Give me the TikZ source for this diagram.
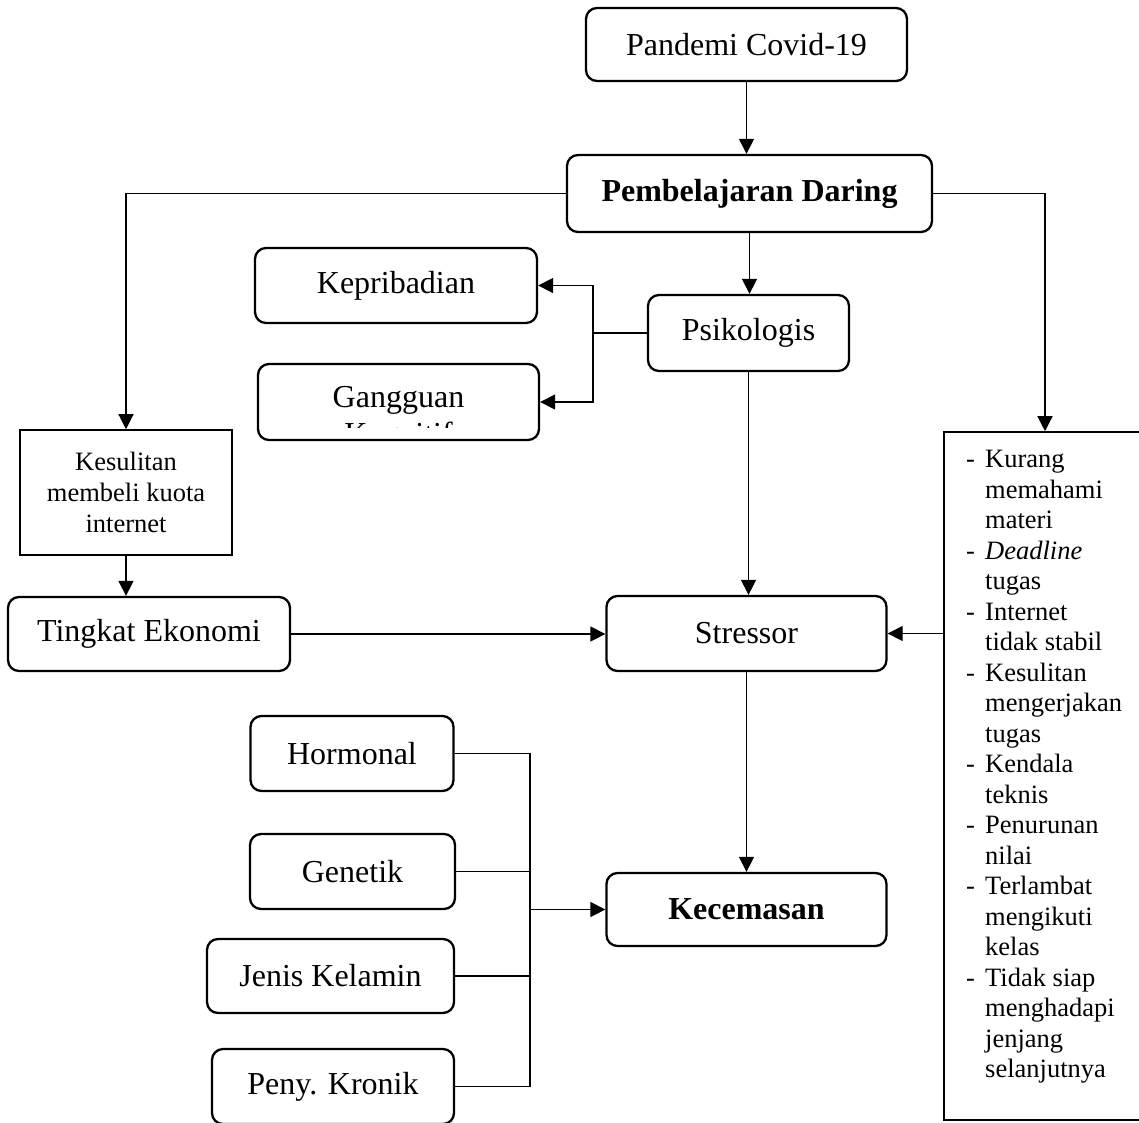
\documentclass[tikz,border=0pt]{standalone}
\usepackage{fontspec}
\setmainfont{Liberation Serif}
\usetikzlibrary{arrows.meta}
\newcommand\mainf{\fontsize{32}{37}\selectfont}
\newcommand\smallf{\fontsize{26.5}{30.5}\selectfont}
\newcommand\kesf{\fontsize{26.5}{31}\selectfont}
\newcommand\lstdash{\makebox[19pt][l]{-}}
\newcommand\lstind{\hspace*{19pt}}
\tikzset{
  rbx/.style={draw, line width=2.3pt, rounded corners=11pt, inner sep=0pt, font=\mainf},
  sbx/.style={draw, line width=1.6pt, inner sep=0pt},
  conn/.style={line width=1.3pt},
  arr/.style={conn, -{Triangle[length=15pt,width=15pt]}}
}
\begin{document}
\begin{tikzpicture}[x=1pt,y=-1pt]
\useasboundingbox (0,0) rectangle (1139,1122);
\fill[white] (0,0) rectangle (1139,1122);
\clip (0,0) rectangle (1139,1122);

% nodes
\node[rbx, minimum width=321pt, minimum height=73pt] (pan) at (746.5,44.5) {Pandemi Covid-19};
\node[rbx, minimum width=365pt, minimum height=77pt, font=\mainf\bfseries] (pem) at (749.5,193.5) {Pembelajaran Daring};
\node[rbx, minimum width=282pt, minimum height=75pt] (kep) at (396,285.5) {Kepribadian};
\node[rbx, minimum width=281pt, minimum height=76pt] (gan) at (398.5,402) {};
\begin{scope}
\clip (258,364) rectangle (540,427);
\node[anchor=north, inner sep=0pt, align=center, font=\mainf] (gantxt) at (398.5,386) {Gangguan\\Kognitif};
\end{scope}
\node[rbx, minimum width=201pt, minimum height=76pt] (psi) at (748.5,333) {Psikologis};
\node[sbx, minimum width=212pt, minimum height=125pt, align=center, font=\kesf] (kes) at (126,492.5) {Kesulitan\\membeli kuota\\internet};
\node[rbx, minimum width=282pt, minimum height=74pt] (tin) at (149,634) {Tingkat Ekonomi};
\node[rbx, minimum width=280pt, minimum height=75pt] (str) at (746.5,633.5) {Stressor};
\node[rbx, minimum width=280pt, minimum height=73pt, font=\mainf\bfseries] (kec) at (746.5,909.5) {Kecemasan};
\node[rbx, minimum width=203pt, minimum height=75pt] (hor) at (352,753.5) {Hormonal};
\node[rbx, minimum width=205pt, minimum height=75pt] (gen) at (352.5,871.5) {Genetik};
\node[rbx, minimum width=247pt, minimum height=74pt] (jen) at (330.5,976) {Jenis Kelamin};
\node[rbx, minimum width=242pt, minimum height=75pt] (pen) at (333,1086.5) {Peny. Kronik};
\node[sbx, minimum width=202pt, minimum height=688pt] (rbox) at (1045,776) {};
\node[anchor=north west, inner sep=0pt, align=left, font=\smallf] (rtxt) at (966,450) {%
\lstdash Kurang\\ \lstind memahami\\ \lstind materi\\
\lstdash \textit{Deadline}\\ \lstind tugas\\
\lstdash Internet\\ \lstind tidak stabil\\
\lstdash Kesulitan\\ \lstind mengerjakan\\ \lstind tugas\\
\lstdash Kendala\\ \lstind teknis\\
\lstdash Penurunan\\ \lstind nilai\\
\lstdash Terlambat\\ \lstind mengikuti\\ \lstind kelas\\
\lstdash Tidak siap\\ \lstind menghadapi\\ \lstind jenjang\\ \lstind selanjutnya};

% connectors
\draw[arr] (pan.south) -- (pan.south |- pem.north);
\draw[arr] (pem.west) -| (kes.north);
\draw[arr] (pem.east) -| (rbox.north);
\draw[arr] (pem.south) -- (pem.south |- psi.north);
\coordinate (br) at (593,333);
\draw[conn] (psi.west) -- (br);
\draw[arr] (br) |- (kep.east);
\draw[arr] (br) |- (gan.east);
\draw[arr] (psi.south) -- (psi.south |- str.north);
\draw[arr] (kes.south) -- (kes.south |- tin.north);
\draw[arr] (tin.east) -- (tin.east -| str.west);
\draw[arr] (rbox.west |- str.east) -- (str.east);
\draw[arr] (str.south) -- (str.south |- kec.north);
\coordinate (jx) at (530,909.5);
\draw[conn] (hor.east) -| (jx);
\draw[conn] (pen.east) -| (jx);
\draw[conn] (gen.east) -- (gen.east -| jx);
\draw[conn] (jen.east) -- (jen.east -| jx);
\draw[arr] (jx) -- (kec.west);
\end{tikzpicture}
\end{document}
